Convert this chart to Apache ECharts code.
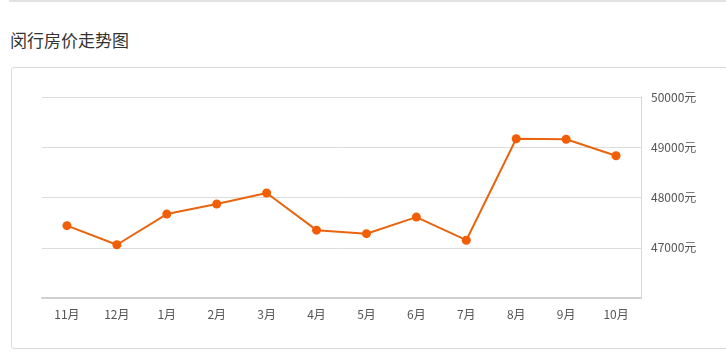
<!DOCTYPE html>
<html><head><meta charset="utf-8">
<script src="https://cdn.jsdelivr.net/npm/echarts@6/dist/echarts.min.js"></script>
<style>
html,body{margin:0;padding:0;background:#fff;width:726px;height:353px;overflow:hidden;font-family:"Noto Sans CJK SC","Noto Sans",sans-serif;}
#topline{position:absolute;left:9px;top:0px;width:717px;height:0;border-top:2px solid #e2e2e2;}
#title{position:absolute;left:10px;top:28px;font-size:17px;color:#333;line-height:24px;}
#box{position:absolute;left:11px;top:67px;width:740px;height:280px;border:1px solid #dcdcdc;border-radius:3px;}
#chart{position:absolute;left:0;top:0;width:726px;height:353px;}
</style></head>
<body>
<div id="topline"></div>
<div id="title">闵行房价走势图</div>
<div id="box"></div>
<div id="chart"></div>
<script>
const categories = ['11月','12月','1月','2月','3月','4月','5月','6月','7月','8月','9月','10月'];
const prices = [47440, 47060, 47670, 47870, 48090, 47350, 47280, 47610, 47150, 49170, 49160, 48830];
const yMin = 46000, yMax = 50000, yStep = 1000;

const chart = echarts.init(document.getElementById('chart'));
chart.setOption({
  animation: false,
  backgroundColor: 'transparent',
  grid: {left: 42, right: 85, top: 97, bottom: 55},
  xAxis: {
    type: 'category', data: categories, boundaryGap: true,
    axisLine: {lineStyle: {color: '#d0d0d0', width: 2}},
    axisTick: {alignWithLabel: true, length: 5, lineStyle: {color: '#d0d0d0'}},
    axisLabel: {color: '#555', fontSize: 12, margin: 10, fontFamily: 'Noto Sans CJK SC'}
  },
  yAxis: {
    type: 'value', position: 'right', min: yMin, max: yMax, interval: yStep,
    axisLine: {show: true, lineStyle: {color: '#d8d8d8'}},
    axisTick: {show: false},
    axisLabel: {color: '#555', fontSize: 12, margin: 10, showMinLabel: false,
      formatter: function (v) { return String(v) + '元'; }, fontFamily: 'Noto Sans CJK SC'},
    splitLine: {lineStyle: {color: '#dcdcdc'}}
  },
  series: [{
    type: 'line', data: prices,
    symbol: 'circle', symbolSize: 9,
    lineStyle: {color: '#e8650f', width: 2},
    itemStyle: {color: '#f25e06'}
  }]
});
</script>
</body></html>
